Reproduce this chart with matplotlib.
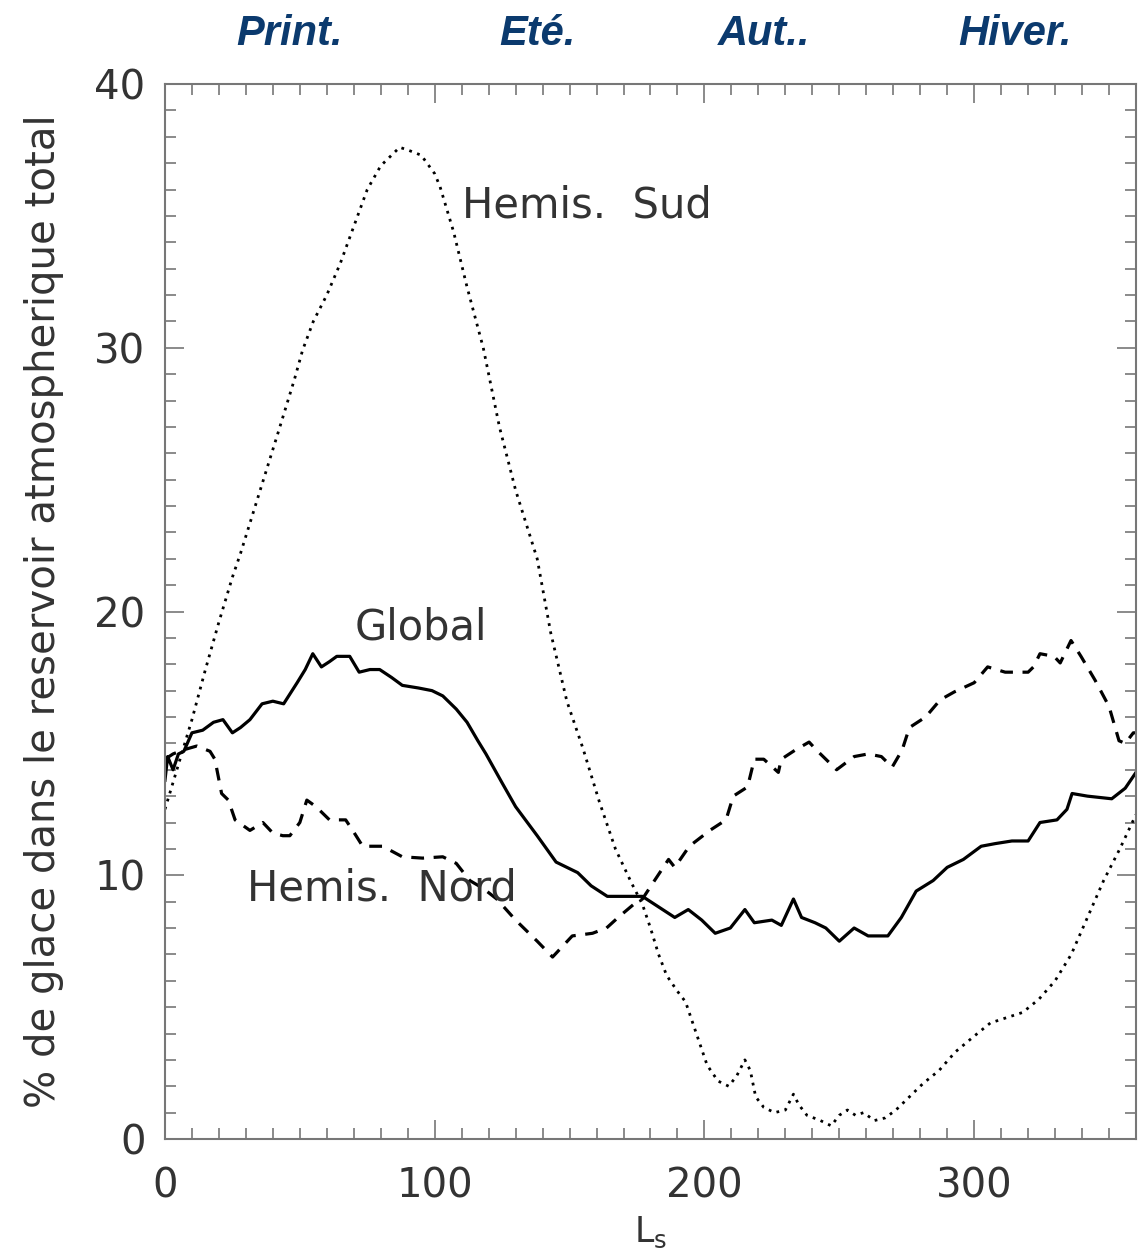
import matplotlib
matplotlib.use("Agg")
import matplotlib.pyplot as plt
from matplotlib import font_manager
from matplotlib.ticker import MultipleLocator

# Global (trait plein)
ls_global = [0, 1, 3, 5, 7, 10, 14, 18, 21.5, 25, 28, 31.5, 36, 40, 44, 49, 52, 54.8, 58, 61,
             63.7, 68.5, 72, 76, 79.6, 84, 88, 94, 99, 103, 108, 112, 116, 119, 125, 130, 138,
             145, 153, 158, 164, 170, 177, 183, 189, 194, 199, 204, 209.6, 215, 218.5, 225,
             228.5, 233, 236, 241, 245, 250, 255.5, 260.7, 264, 268, 273, 278.5, 284.8, 290,
             296, 302.6, 307.8, 314, 320, 324.4, 330.7, 334.4, 336.3, 342, 351, 356, 360]
glace_global = [13.6, 14.5, 14.0, 14.6, 14.7, 15.4, 15.5, 15.8, 15.9, 15.4, 15.6, 15.9, 16.5,
                16.6, 16.5, 17.3, 17.8, 18.4, 17.9, 18.1, 18.3, 18.3, 17.7, 17.8, 17.8, 17.5,
                17.2, 17.1, 17.0, 16.8, 16.3, 15.8, 15.1, 14.6, 13.5, 12.6, 11.5, 10.5, 10.1,
                9.6, 9.2, 9.2, 9.2, 8.8, 8.4, 8.7, 8.3, 7.8, 8.0, 8.7, 8.2, 8.3, 8.1, 9.1, 8.4,
                8.2, 8.0, 7.5, 8.0, 7.7, 7.7, 7.7, 8.4, 9.4, 9.8, 10.3, 10.6, 11.1, 11.2, 11.3,
                11.3, 12.0, 12.1, 12.5, 13.1, 13.0, 12.9, 13.3, 13.9]

# Hemisphere nord (tirets)
ls_nord = [0, 3, 6.7, 11.8, 16.7, 18.5, 21, 23.5, 26, 31.5, 36.3, 40, 43.7, 46.3, 50, 52.6, 56,
           61, 67, 69.6, 73.3, 80.7, 88, 95.5, 103, 108, 113, 118, 123, 130, 138, 143.7, 151,
           158.5, 163.7, 168, 173.8, 177, 181.5, 186.7, 189, 194.4, 202, 208, 210.7, 216,
           218.5, 222, 227.4, 228.5, 233.7, 238.8, 241.5, 245, 249, 255.5, 260.7, 265.6,
           269.6, 273.3, 276, 282, 287.4, 292.6, 300, 305, 311.5, 320, 322, 324.4, 329.6,
           331.9, 335.9, 339.6, 344.8, 350, 353.7, 356, 359, 360]
glace_nord = [14.4, 14.6, 14.75, 14.9, 14.7, 14.4, 13.1, 12.85, 12.1, 11.7, 12.0, 11.6, 11.5,
              11.5, 12.0, 12.85, 12.6, 12.1, 12.1, 11.7, 11.1, 11.1, 10.7, 10.65, 10.7, 10.45,
              9.8, 9.5, 9.1, 8.3, 7.5, 6.9, 7.7, 7.8, 8.0, 8.4, 8.9, 9.1, 9.8, 10.6, 10.3,
              11.1, 11.7, 12.1, 13.0, 13.35, 14.4, 14.4, 13.9, 14.4, 14.75, 15.05, 14.75, 14.4,
              14.0, 14.5, 14.6, 14.5, 14.1, 14.75, 15.6, 16.0, 16.65, 16.95, 17.3, 17.9, 17.7,
              17.7, 17.9, 18.4, 18.3, 18.05, 18.9, 18.3, 17.4, 16.4, 15.1, 15.0, 15.4, 15.4]

# Hemisphere sud (pointilles)
ls_sud = [0, 5, 10, 15, 20, 25, 28, 35, 42, 48, 51, 55, 60, 65, 70, 75, 80, 85, 87, 90, 95,
          100, 102, 107, 112, 118, 124, 130, 138, 143, 149, 155, 161, 167, 173, 177, 180, 183,
          186, 190, 193, 197, 201, 205, 209, 212, 215, 217, 219, 222, 226, 230, 233, 235, 238,
          243, 247, 250, 253, 256, 259, 263, 267, 271, 276, 281, 287, 293, 300, 306, 312, 318,
          324, 330, 336, 342, 348, 354, 360]
glace_sud = [12.5, 14.2, 15.9, 17.8, 19.6, 21.3, 22.2, 24.5, 26.8, 28.8, 29.9, 31.0, 32.0,
             33.2, 34.6, 36.0, 36.9, 37.4, 37.6, 37.5, 37.3, 36.6, 36.1, 34.4, 32.3, 30.0,
             27.0, 24.6, 22.0, 19.2, 16.6, 14.8, 12.8, 11.0, 9.7, 8.9, 8.0, 7.0, 6.2, 5.6,
             5.2, 4.0, 2.8, 2.2, 2.0, 2.4, 3.0, 2.6, 1.6, 1.2, 1.0, 1.1, 1.7, 1.3, 0.9, 0.7,
             0.5, 0.9, 1.1, 0.9, 1.0, 0.7, 0.8, 1.1, 1.6, 2.1, 2.6, 3.3, 3.9, 4.4, 4.6, 4.8,
             5.3, 6.0, 7.0, 8.4, 9.8, 11.0, 12.3]

saisons = ["Print.", "Eté.", "Aut..", "Hiver."]
saisons_ls = [46, 138, 222, 315]

noms = {f.name for f in font_manager.fontManager.ttflist}
police_saison = "Liberation Sans Narrow" if "Liberation Sans Narrow" in noms else "Liberation Sans"

gris = "#333333"
fig = plt.figure(figsize=(11.4, 12.54), dpi=100)
ax = fig.add_axes([0.1447, 0.0917, 0.8518, 0.8413])

ax.plot(ls_global, glace_global, color="black", lw=2.3, ls="-")
ax.plot(ls_nord, glace_nord, color="black", lw=2.3, ls=(0, (4, 3)))
ax.plot(ls_sud, glace_sud, color="black", lw=2.0, ls=(0, (1, 2)))

ax.set_xlim(0, 360)
ax.set_ylim(0, 40)
ax.xaxis.set_major_locator(MultipleLocator(100))
ax.xaxis.set_minor_locator(MultipleLocator(10))
ax.yaxis.set_major_locator(MultipleLocator(10))
ax.yaxis.set_minor_locator(MultipleLocator(1))
ax.tick_params(which="both", direction="in", top=True, right=True, color="#777777", width=1.2)
ax.tick_params(which="major", length=14)
ax.tick_params(which="minor", length=8)
ax.tick_params(axis="x", which="major", labelsize=29, labelcolor=gris, pad=20)
ax.tick_params(axis="y", which="major", labelsize=29, labelcolor=gris, pad=14)
for s in ax.spines.values():
    s.set_color("#777777")
    s.set_linewidth(1.5)

ax.set_xlabel(r"L$_{\rm s}$", fontsize=25, color=gris, labelpad=6)
ax.set_ylabel("% de glace dans le reservoir atmospherique total", fontsize=29, color=gris,
              labelpad=22)

ax.text(110, 35.4, "Hemis.  Sud", fontsize=30, color=gris, va="center")
ax.text(70.4, 19.4, "Global", fontsize=30, color=gris, va="center")
ax.text(30.4, 9.5, "Hemis.  Nord", fontsize=30, color=gris, va="center")

for nom, xs in zip(saisons, saisons_ls):
    ax.text(xs, 41.9, nom, fontsize=30, color="#0b3a6e", style="italic", weight="bold",
            family=police_saison, ha="center", va="center", clip_on=False)

fig.savefig("out.png", dpi=100)
